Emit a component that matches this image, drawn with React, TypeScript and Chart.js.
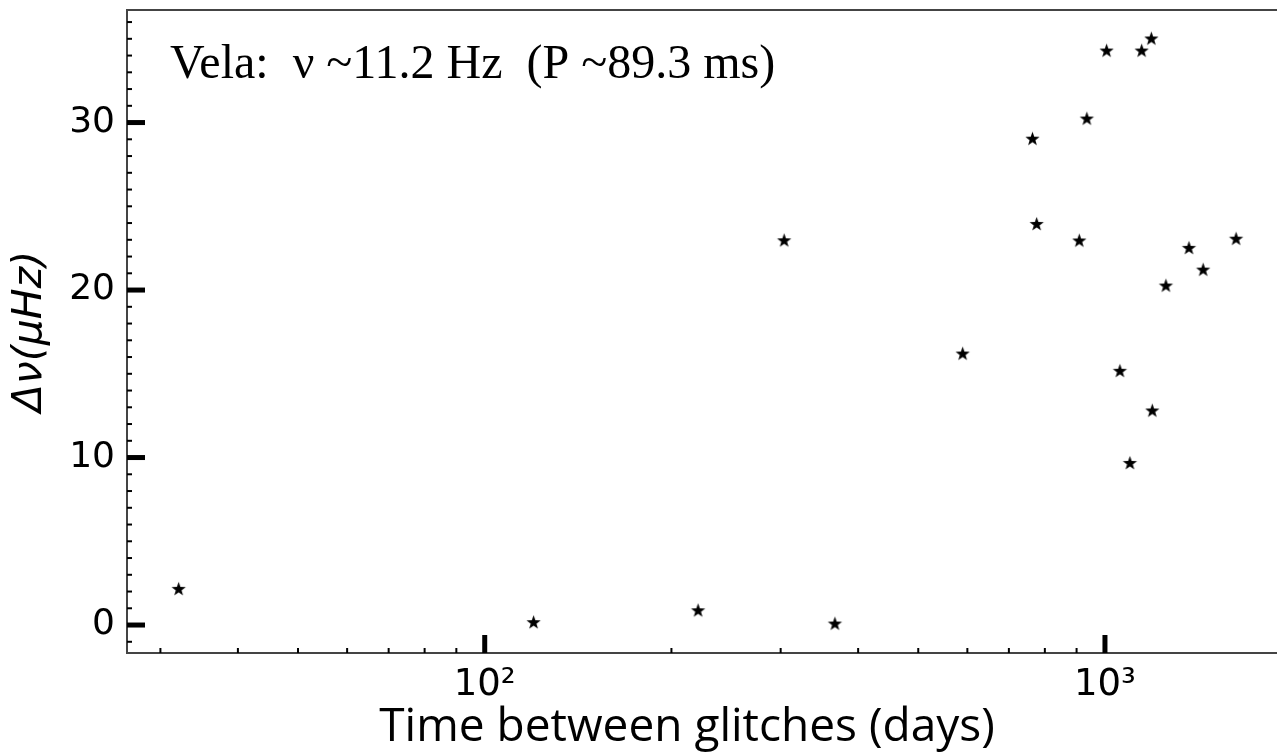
import React, { useEffect, useRef } from "react";
import { Chart, registerables } from "chart.js";

Chart.register(...registerables);

// ---- data ----
const glitchIntervalDays = [32.1, 119.9, 220.8, 366.9, 303.9, 589.6, 764, 776, 935, 909, 1006, 1146, 1188, 1057, 1097, 1192, 1254, 1366, 1440, 1627];
const frequencyJumpMicroHz = [2.13, 0.14, 0.85, 0.06, 22.94, 16.18, 29.01, 23.92, 30.21, 22.93, 34.27, 34.27, 34.99, 15.15, 9.65, 12.78, 20.24, 22.49, 21.19, 23.04];

const xAxisRange = [26.5, 1894];
const yAxisRange = [-1.67, 36.72];

const xMajorTicks = [100, 1000];
const xMajorTickLabels = ["10\u00B2", "10\u00B3"];
const xMinorTicks = [30, 40, 50, 60, 70, 80, 90, 200, 300, 400, 500, 600, 700, 800, 900];
const yMajorTicks = [0, 10, 20, 30];
const yMinorTicks = [-1, 1, 2, 3, 4, 5, 6, 7, 8, 9, 11, 12, 13, 14, 15, 16, 17, 18, 19, 21, 22, 23, 24, 25, 26, 27, 28, 29, 31, 32, 33, 34, 35, 36];

const annotationText = "Vela:  \u03BD ~11.2 Hz  (P ~89.3 ms)";
const xTitleText = "Time between glitches (days)";
const yTitleText = "\u0394\u03BD(\u03BCHz)";

const SPINE_COLOR = "#444444";

function makeStar(r: number): HTMLCanvasElement {
  const size = Math.ceil(r * 2 + 2);
  const c = document.createElement("canvas");
  c.width = size;
  c.height = size;
  const ctx = c.getContext("2d")!;
  ctx.translate(size / 2, size / 2);
  ctx.beginPath();
  for (let i = 0; i < 10; i++) {
    const rad = i % 2 === 0 ? r : r * 0.4;
    const a = -Math.PI / 2 + (i * Math.PI) / 5;
    const px = rad * Math.cos(a);
    const py = rad * Math.sin(a);
    if (i === 0) ctx.moveTo(px, py);
    else ctx.lineTo(px, py);
  }
  ctx.closePath();
  ctx.fillStyle = "#000";
  ctx.fill();
  return c;
}

const decorPlugin = {
  id: "decor",
  afterDraw(chart: any) {
    const { ctx, chartArea, scales } = chart;
    const xs = scales.x;
    const ys = scales.y;
    ctx.save();
    // top spine
    ctx.strokeStyle = SPINE_COLOR;
    ctx.lineWidth = 2;
    ctx.beginPath();
    ctx.moveTo(chartArea.left - 1, chartArea.top);
    ctx.lineTo(chartArea.right, chartArea.top);
    ctx.stroke();

    // inward ticks
    ctx.strokeStyle = "#000";
    ctx.lineCap = "butt";
    const tickLine = (x1: number, y1: number, x2: number, y2: number, w: number) => {
      ctx.lineWidth = w;
      ctx.beginPath();
      ctx.moveTo(x1, y1);
      ctx.lineTo(x2, y2);
      ctx.stroke();
    };
    yMinorTicks.forEach((v) => {
      if (v < yAxisRange[0] || v > yAxisRange[1]) return;
      const py = ys.getPixelForValue(v);
      tickLine(chartArea.left, py, chartArea.left + 5, py, 2);
    });
    yMajorTicks.forEach((v) => {
      const py = ys.getPixelForValue(v);
      tickLine(chartArea.left, py, chartArea.left + 18, py, 5);
    });
    xMinorTicks.forEach((v) => {
      if (v < xAxisRange[0] || v > xAxisRange[1]) return;
      const px = xs.getPixelForValue(v);
      tickLine(px, chartArea.bottom, px, chartArea.bottom - 5, 2);
    });
    xMajorTicks.forEach((v) => {
      const px = xs.getPixelForValue(v);
      tickLine(px, chartArea.bottom, px, chartArea.bottom - 18, 5);
    });

    // annotation
    ctx.fillStyle = "#000";
    ctx.font = "48px 'Liberation Serif', 'Times New Roman', serif";
    ctx.textAlign = "left";
    ctx.textBaseline = "alphabetic";
    ctx.fillText(annotationText, 170, 78);

    // x-axis title
    ctx.font = "46px 'Open Sans', sans-serif";
    ctx.textAlign = "center";
    ctx.fillText(xTitleText, 687, 741);
    ctx.restore();
  },
};

export default function App() {
  const canvasRef = useRef<HTMLCanvasElement | null>(null);

  useEffect(() => {
    if (!canvasRef.current) return;
    const star = makeStar(7.5);
    const points = glitchIntervalDays.map((x, i) => ({ x, y: frequencyJumpMicroHz[i] }));
    const chart = new Chart(canvasRef.current, {
      type: "scatter",
      data: {
        datasets: [
          {
            label: "Vela glitches",
            data: points,
            pointStyle: star as any,
            pointRadius: 7,
            pointHoverRadius: 7,
            backgroundColor: "#000",
            borderColor: "#000",
            showLine: false,
          },
        ],
      },
      options: {
        animation: false,
        responsive: true,
        maintainAspectRatio: false,
        events: [],
        layout: { autoPadding: false, padding: { top: 10, left: 0, right: 0, bottom: 0 } },
        plugins: {
          legend: { display: false },
          tooltip: { enabled: false },
        },
        scales: {
          x: {
            type: "logarithmic",
            min: xAxisRange[0],
            max: xAxisRange[1],
            afterBuildTicks: (s: any) => {
              s.ticks = xMajorTicks.map((v) => ({ value: v, major: true }));
            },
            afterFit: (s: any) => {
              s.height = 102;
              s.paddingLeft = 0;
              s.paddingRight = 0;
            },
            grid: { display: false, drawTicks: false },
            border: { display: true, color: SPINE_COLOR, width: 2 },
            ticks: {
              autoSkip: false,
              maxRotation: 0,
              padding: 10,
              color: "#000",
              font: { family: "'DejaVu Sans'", size: 37 },
              callback: (value: any) => {
                const idx = xMajorTicks.indexOf(Number(value));
                return idx >= 0 ? xMajorTickLabels[idx] : "";
              },
            },
          },
          y: {
            type: "linear",
            min: yAxisRange[0],
            max: yAxisRange[1],
            afterBuildTicks: (s: any) => {
              s.ticks = yMajorTicks.map((v) => ({ value: v }));
            },
            afterFit: (s: any) => {
              s.width = 127;
              s.paddingTop = 0;
              s.paddingBottom = 0;
            },
            grid: { display: false, drawTicks: false },
            border: { display: true, color: SPINE_COLOR, width: 2 },
            ticks: {
              padding: 12,
              color: "#000",
              font: { family: "'DejaVu Sans'", size: 36 },
              callback: (value: any) => String(value),
            },
            title: {
              display: true,
              text: yTitleText,
              color: "#000",
              padding: { top: 6, bottom: 0 },
              font: { family: "'DejaVu Sans'", size: 41, style: "italic" },
            },
          },
        },
      },
      plugins: [decorPlugin],
    } as any);
    return () => chart.destroy();
  }, []);

  return (
    <div style={{ position: "fixed", left: 0, top: 0, width: 1277, height: 755, background: "#fff" }}>
      <canvas ref={canvasRef} />
    </div>
  );
}
